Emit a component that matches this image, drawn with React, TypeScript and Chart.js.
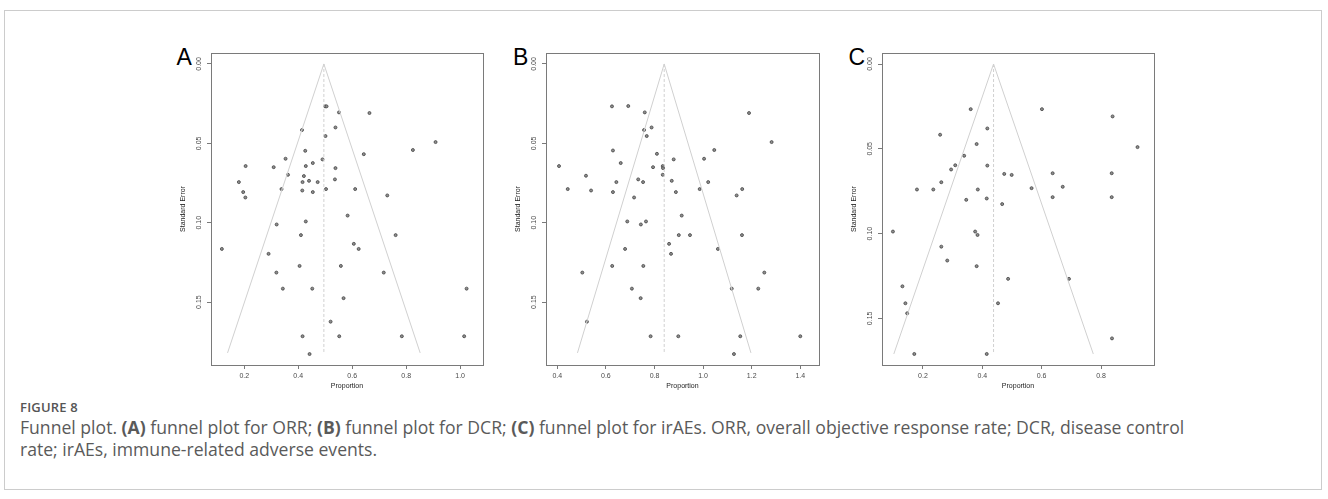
import React, { useEffect, useRef } from "react";
import { Chart, registerables } from "chart.js";

Chart.register(...registerables);

// ---- Funnel data: proportion (x) and its standard error (y) per study ----

// Objective response rate
const orrProportion = [
  0.5, 0.505, 0.551, 0.664, 0.414, 0.538, 0.501, 0.909, 0.825, 0.426,
  0.643, 0.353, 0.49, 0.454, 0.205, 0.309, 0.428, 0.538, 0.362, 0.421,
  0.536, 0.18, 0.416, 0.44, 0.472, 0.338, 0.415, 0.454, 0.503, 0.611,
  0.196, 0.73, 0.204, 0.583, 0.428, 0.32, 0.41, 0.761, 0.606, 0.117,
  0.624, 0.29, 0.405, 0.558, 0.319, 0.717, 0.343, 0.452, 1.024, 0.568,
  0.52, 0.416, 0.552, 0.784, 1.015, 0.442,
];
const orrStdError = [
  0.0267, 0.0267, 0.0305, 0.0309, 0.0416, 0.04, 0.0454, 0.0492, 0.0542, 0.0547,
  0.0568, 0.0597, 0.0601, 0.0624, 0.0643, 0.065, 0.0643, 0.0656, 0.0698, 0.0706,
  0.0727, 0.0744, 0.0744, 0.0736, 0.0744, 0.0788, 0.0797, 0.0807, 0.0788, 0.0788,
  0.0807, 0.0828, 0.0841, 0.0955, 0.0992, 0.1011, 0.1078, 0.1078, 0.1133, 0.1165,
  0.1165, 0.1196, 0.1272, 0.1272, 0.1314, 0.1314, 0.1415, 0.1415, 0.1415, 0.1475,
  0.1623, 0.1715, 0.1715, 0.1715, 0.1715, 0.1827,
];

// Disease control rate
const dcrProportion = [
  0.625, 0.692, 0.76, 1.189, 0.757, 0.788, 0.768, 1.282, 0.629, 1.046,
  0.81, 1.004, 0.879, 0.661, 0.407, 0.794, 0.834, 0.835, 0.518, 0.834,
  0.643, 0.733, 0.753, 0.871, 1.021, 0.443, 0.539, 0.629, 0.888, 0.986,
  1.161, 1.138, 0.716, 0.912, 0.688, 0.765, 0.744, 0.9, 0.946, 1.16,
  0.86, 0.679, 1.061, 0.868, 0.626, 0.754, 0.503, 1.252, 0.707, 1.118,
  1.227, 0.743, 0.522, 0.784, 0.898, 1.153, 1.4, 1.127,
];
const dcrStdError = [
  0.0267, 0.0265, 0.0305, 0.0309, 0.0416, 0.04, 0.0454, 0.0492, 0.0545, 0.0542,
  0.0566, 0.0597, 0.0601, 0.0624, 0.0643, 0.065, 0.0643, 0.0656, 0.0704, 0.0698,
  0.0744, 0.0727, 0.0744, 0.0736, 0.0744, 0.0788, 0.0797, 0.0807, 0.0807, 0.0788,
  0.0788, 0.0828, 0.0841, 0.0955, 0.0992, 0.0992, 0.1011, 0.1078, 0.1078, 0.1078,
  0.1133, 0.1165, 0.1165, 0.1196, 0.1272, 0.1272, 0.1314, 0.1314, 0.1415, 0.1415,
  0.1415, 0.1475, 0.1623, 0.1715, 0.1715, 0.1715, 0.1715, 0.1827,
];

// Immune-related adverse events
const iraeProportion = [
  0.361, 0.601, 0.839, 0.417, 0.258, 0.381, 0.923, 0.339, 0.417, 0.309,
  0.295, 0.474, 0.499, 0.637, 0.836, 0.262, 0.671, 0.566, 0.18, 0.235,
  0.385, 0.637, 0.836, 0.415, 0.346, 0.467, 0.099, 0.376, 0.384, 0.262,
  0.282, 0.381, 0.131, 0.487, 0.692, 0.141, 0.453, 0.147, 0.837, 0.171,
  0.415,
];
const iraeStdError = [
  0.0266, 0.0266, 0.0309, 0.038, 0.0417, 0.0472, 0.049, 0.0541, 0.0599, 0.0597,
  0.0622, 0.0648, 0.0654, 0.0644, 0.0644, 0.0697, 0.0724, 0.0732, 0.074, 0.074,
  0.074, 0.0785, 0.0785, 0.0793, 0.0801, 0.0826, 0.0988, 0.0988, 0.1008, 0.1077,
  0.1159, 0.1192, 0.1311, 0.1267, 0.1267, 0.1411, 0.1411, 0.147, 0.1618, 0.171,
  0.171,
];

// Pooled estimate and pseudo-95% limits at the funnel base [pooled, lower, upper, base SE]
const orrFunnel = [0.495, 0.138, 0.852, 0.182];
const dcrFunnel = [0.84, 0.483, 1.197, 0.182];
const iraeFunnel = [0.438, 0.102, 0.774, 0.171];

// Tick labels
const orrXTicks = [0.2, 0.4, 0.6, 0.8, 1.0];
const dcrXTicks = [0.4, 0.6, 0.8, 1.0, 1.2, 1.4];
const iraeXTicks = [0.2, 0.4, 0.6, 0.8];
const seTicks = [0.0, 0.05, 0.1, 0.15];

const FONT = "'Liberation Sans', Arial, Helvetica, sans-serif";
const AXIS_GRAY = "#7a7a7a";
const TEXT_GRAY = "#4a4a4a";

const PLOT_TOP = 53;
const PLOT_BOTTOM = 365;
const LEFT_GUTTER = 45;
const RIGHT_GUTTER = 12;
const CANVAS_TOP = 40;
const CANVAS_HEIGHT = 360;

const framePlugin = {
  id: "frame",
  afterDraw(chart: any) {
    const { ctx, chartArea } = chart;
    const { left, top, right, bottom } = chartArea;
    ctx.save();
    ctx.strokeStyle = AXIS_GRAY;
    ctx.lineWidth = 1;
    ctx.strokeRect(Math.round(left) + 0.5, Math.round(top) + 0.5, Math.round(right - left), Math.round(bottom - top));
    ctx.restore();
  },
};

type PanelProps = {
  letter: string;
  letterLeft: number;
  xs: number[];
  ses: number[];
  funnel: number[];
  xTicks: number[];
  xMin: number;
  xMax: number;
  yMin: number;
  yMax: number;
  frameLeft: number;
  frameRight: number;
};

function FunnelPanel(p: PanelProps) {
  const ref = useRef<HTMLCanvasElement | null>(null);
  const width = p.frameRight - p.frameLeft + LEFT_GUTTER + RIGHT_GUTTER;
  const canvasLeft = p.frameLeft - LEFT_GUTTER;

  useEffect(() => {
    if (!ref.current) return;
    const [pooled, lower, upper, baseSE] = p.funnel;
    const tickFont = { family: FONT, size: 7 };

    const chart = new Chart(ref.current, {
      type: "scatter",
      data: {
        datasets: [
          {
            type: "line",
            data: [
              { x: lower, y: baseSE },
              { x: pooled, y: 0 },
              { x: upper, y: baseSE },
            ],
            borderColor: "#d0d0d0",
            borderWidth: 1,
            pointRadius: 0,
            fill: false,
            tension: 0,
          } as any,
          {
            type: "line",
            data: [
              { x: pooled, y: 0 },
              { x: pooled, y: baseSE },
            ],
            borderColor: "#d0d0d0",
            borderWidth: 1,
            borderDash: [3, 2],
            pointRadius: 0,
            fill: false,
          } as any,
          {
            data: p.xs.map((x, i) => ({ x, y: p.ses[i] })),
            pointRadius: 1.5,
            pointBackgroundColor: "#8e8e8e",
            pointBorderColor: "#444444",
            pointBorderWidth: 0.8,
          },
        ],
      },
      options: {
        responsive: false,
        animation: false,
        events: [],
        layout: { padding: { top: PLOT_TOP - CANVAS_TOP, right: RIGHT_GUTTER, left: 0, bottom: 0 } },
        plugins: { legend: { display: false }, tooltip: { enabled: false } },
        scales: {
          x: {
            type: "linear",
            position: "bottom",
            min: p.xMin,
            max: p.xMax,
            afterBuildTicks: (s: any) => {
              s.ticks = p.xTicks.map((v) => ({ value: v }));
            },
            afterFit: (s: any) => {
              s.height = CANVAS_HEIGHT - (PLOT_BOTTOM - CANVAS_TOP);
            },
            ticks: {
              autoSkip: false,
              maxRotation: 0,
              minRotation: 0,
              padding: 2.5,
              color: TEXT_GRAY,
              font: tickFont,
              callback: (v: any) => Number(v).toFixed(1),
            },
            grid: { drawOnChartArea: false, drawTicks: true, tickLength: 4, color: AXIS_GRAY, lineWidth: 1 },
            border: { display: false },
            title: {
              display: true,
              text: "Proportion",
              color: "#222",
              font: tickFont,
              padding: { top: 0, bottom: 10 },
            },
          },
          y: {
            type: "linear",
            reverse: true,
            min: p.yMin,
            max: p.yMax,
            afterBuildTicks: (s: any) => {
              s.ticks = seTicks.map((v) => ({ value: v }));
            },
            afterFit: (s: any) => {
              s.width = LEFT_GUTTER;
            },
            ticks: {
              autoSkip: false,
              minRotation: 90,
              maxRotation: 90,
              crossAlign: "center",
              padding: 1,
              color: TEXT_GRAY,
              font: tickFont,
              callback: (v: any) => Number(v).toFixed(2),
            },
            grid: { drawOnChartArea: false, drawTicks: true, tickLength: 4, color: AXIS_GRAY, lineWidth: 1 },
            border: { display: false },
            title: {
              display: true,
              text: "Standard Error",
              color: "#222",
              font: tickFont,
              padding: { top: 13, bottom: 0 },
            },
          },
        },
      } as any,
      plugins: [framePlugin],
    });
    return () => chart.destroy();
  }, []);

  return (
    <>
      <div
        style={{
          position: "absolute",
          left: p.letterLeft,
          top: 45.5,
          fontFamily: FONT,
          fontSize: 23,
          lineHeight: "23px",
          color: "#000",
        }}
      >
        {p.letter}
      </div>
      <canvas
        ref={ref}
        width={width}
        height={CANVAS_HEIGHT}
        style={{ position: "absolute", left: canvasLeft, top: CANVAS_TOP, width, height: CANVAS_HEIGHT }}
      />
    </>
  );
}

export default function App() {
  const captionFont = "'Open Sans', 'Noto Sans', sans-serif";
  return (
    <div
      style={{
        position: "absolute",
        left: 0,
        top: 0,
        width: 1328,
        height: 499,
        background: "#fff",
        overflow: "hidden",
      }}
    >
      <div
        style={{
          position: "absolute",
          left: 4,
          top: 10,
          width: 1318,
          height: 480,
          border: "1px solid #cccccc",
          boxSizing: "border-box",
        }}
      />
      <FunnelPanel
        letter="A"
        letterLeft={176.5}
        xs={orrProportion}
        ses={orrStdError}
        funnel={orrFunnel}
        xTicks={orrXTicks}
        xMin={0.0767}
        xMax={1.0848}
        yMin={-0.0069}
        yMax={0.1896}
        frameLeft={211}
        frameRight={483}
      />
      <FunnelPanel
        letter="B"
        letterLeft={513}
        xs={dcrProportion}
        ses={dcrStdError}
        funnel={dcrFunnel}
        xTicks={dcrXTicks}
        xMin={0.3535}
        xMax={1.477}
        yMin={-0.0069}
        yMax={0.1896}
        frameLeft={546}
        frameRight={819}
      />
      <FunnelPanel
        letter="C"
        letterLeft={848.5}
        xs={iraeProportion}
        ses={iraeStdError}
        funnel={iraeFunnel}
        xTicks={iraeXTicks}
        xMin={0.0622}
        xMax={0.9785}
        yMin={-0.0065}
        yMax={0.1775}
        frameLeft={882}
        frameRight={1154}
      />
      <div
        style={{
          position: "absolute",
          left: 20,
          top: 399,
          fontFamily: captionFont,
          fontSize: 13,
          lineHeight: "16px",
          fontWeight: 600,
          color: "#555",
          letterSpacing: 0.2,
        }}
      >
        FIGURE 8
      </div>
      <div
        style={{
          position: "absolute",
          left: 20,
          top: 416,
          fontFamily: captionFont,
          fontSize: 17.6,
          lineHeight: "22px",
          color: "#5a5a5a",
          whiteSpace: "nowrap",
        }}
      >
        Funnel plot. <b>(A)</b> funnel plot for ORR; <b>(B)</b> funnel plot for DCR; <b>(C)</b> funnel plot for irAEs. ORR,
        overall objective response rate; DCR, disease control
        <br />
        rate; irAEs, immune-related adverse events.
      </div>
    </div>
  );
}
